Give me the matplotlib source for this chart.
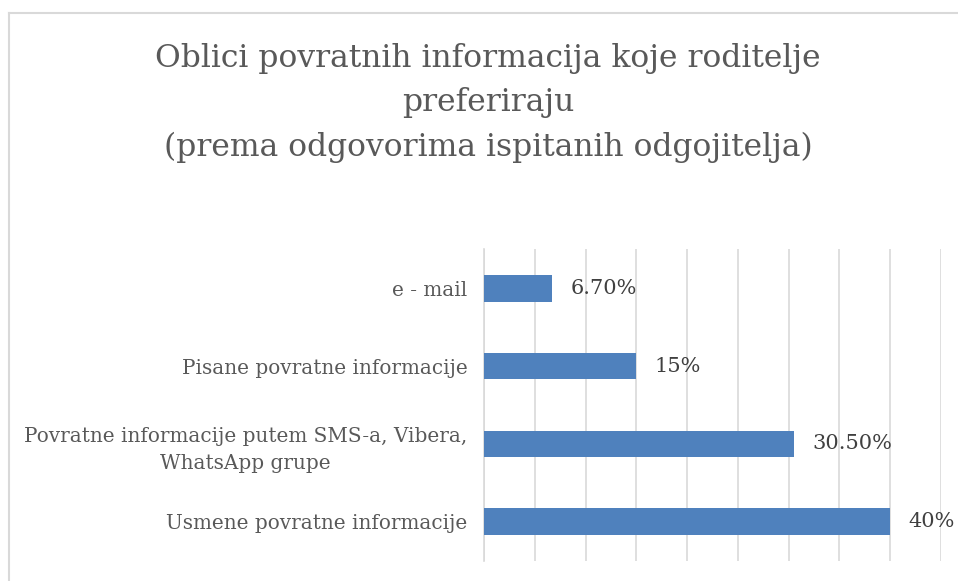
import matplotlib.pyplot as plt
from matplotlib.lines import Line2D

# podaci (odozdo prema gore)
kategorije = ['Usmene povratne informacije',
              'Povratne informacije putem SMS-a, Vibera,\nWhatsApp grupe',
              'Pisane povratne informacije',
              'e - mail']
postotci = [40, 30.5, 15, 6.7]
oznake = ['40%', '30.50%', '15%', '6.70%']

naslov = ('Oblici povratnih informacija koje roditelje\npreferiraju\n'
          '(prema odgovorima ispitanih odgojitelja)')

W, H = 958, 581
fig = plt.figure(figsize=(W / 100, H / 100), dpi=100)
plt.rcParams['font.family'] = ['DejaVu Serif']

ax = fig.add_axes([484 / W, 1 - 560.6 / H, (941 - 484) / W, (560.6 - 249.4) / H])

y = range(len(kategorije))
ax.barh(y, postotci, height=0.34, color='#4f81bd', zorder=3)
for yi, v, t in zip(y, postotci, oznake):
    ax.text(v + 1.8, yi, t, va='center', ha='left', fontsize=15, color='#404040')

ax.set_xlim(0, 45)
ax.set_ylim(-0.5, len(kategorije) - 0.5)
ax.set_xticks(range(0, 46, 5))
ax.set_xticklabels([])
ax.tick_params(axis='x', length=0)
ax.grid(axis='x', color='#d9d9d9', linewidth=1.2, zorder=0)
ax.set_yticks(list(y))
ax.set_yticklabels(kategorije, fontsize=14.4, color='#595959', ha='right',
                   multialignment='center', linespacing=1.55)
ax.tick_params(axis='y', length=0, pad=12)
for s in ['top', 'right', 'bottom']:
    ax.spines[s].set_visible(False)
ax.spines['left'].set_color('#d9d9d9')
ax.spines['left'].set_linewidth(1.2)

fig.text(488 / W, 1 - 103 / H, naslov, ha='center', va='center', fontsize=22.6,
         color='#595959', linespacing=1.55)

# okvir grafikona
fig.add_artist(Line2D([8.5 / W, 8.5 / W], [0, 1 - 12.5 / H], color='#d9d9d9', lw=1.5))
fig.add_artist(Line2D([8.5 / W, 1], [1 - 12.5 / H, 1 - 12.5 / H], color='#d9d9d9', lw=1.5))

fig.savefig('out.png', dpi=100)
